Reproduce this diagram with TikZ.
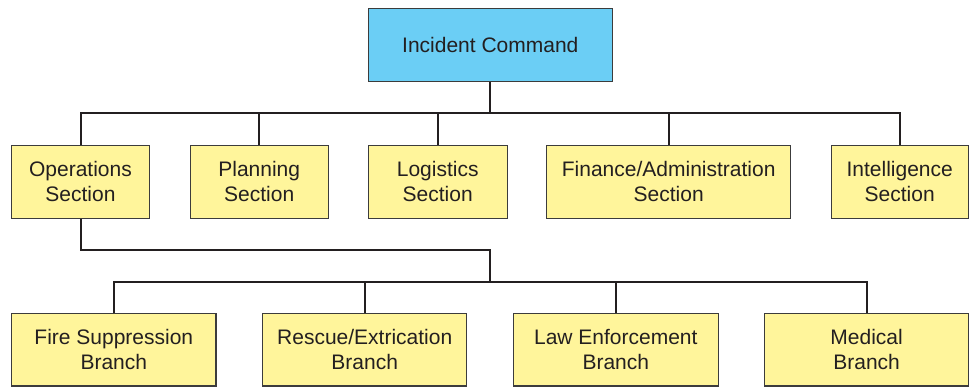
\documentclass[tikz,border=0pt]{standalone}
\usepackage{fontspec}
\setmainfont{Liberation Sans}
\begin{document}
\definecolor{cmdblue}{HTML}{6BCEF5}
\definecolor{unityellow}{HTML}{FFF59B}
\definecolor{inkgray}{HTML}{231F20}
\definecolor{edgegray}{HTML}{3C3C3C}
\begin{tikzpicture}[x=1pt,y=-1pt,
  box/.style={draw=edgegray,line width=1.1pt,fill=unityellow,align=center,
    inner sep=0pt,text=inkgray,font=\fontsize{21}{25}\selectfont},
  link/.style={draw=inkgray,line width=2pt}]
\useasboundingbox (0,0) rectangle (970,387);
% command box
\node[box,fill=cmdblue,minimum width=244pt,minimum height=72.6pt] (ic) at (490.3,45) {Incident Command};
% sections
\node[box,minimum width=137.6pt,minimum height=73pt] (ops) at (80.5,181.6) {Operations\\Section};
\node[box,minimum width=138.3pt,minimum height=73pt] (plan) at (259.2,181.6) {Planning\\Section};
\node[box,minimum width=139pt,minimum height=73pt] (log) at (437.7,181.6) {Logistics\\Section};
\node[box,minimum width=244pt,minimum height=73pt] (fin) at (668.7,181.6) {Finance/Administration\\Section};
\node[box,minimum width=137.3pt,minimum height=73pt] (int) at (899.7,181.6) {Intelligence\\Section};
% branches
\node[box,minimum width=204.3pt,minimum height=72.7pt] (fire) at (113.8,349.7) {Fire Suppression\\Branch};
\node[box,minimum width=204pt,minimum height=72.7pt] (res) at (364.7,349.7) {Rescue/Extrication\\Branch};
\node[box,minimum width=205pt,minimum height=72.7pt] (law) at (615.8,349.7) {Law Enforcement\\Branch};
\node[box,minimum width=204pt,minimum height=72.7pt] (med) at (866.6,349.7) {Medical\\Branch};
% bus levels
\coordinate (b1) at (0,113.3);
\coordinate (b2) at (0,250);
\coordinate (b3) at (0,281.8);
% command to sections
\draw[link] (ic.south) -- (ic.south |- b1);
\draw[link] (ops.north) -- (ops.north |- b1) -- (int.north |- b1) -- (int.north);
\draw[link] (plan.north) -- (plan.north |- b1);
\draw[link] (log.north) -- (log.north |- b1);
\draw[link] (fin.north) -- (fin.north |- b1);
% operations to branches
\draw[link] (ops.south) -- (ops.south |- b2) -- (ic.south |- b2) -- (ic.south |- b3);
\draw[link] (fire.north) -- (fire.north |- b3) -- (med.north |- b3) -- (med.north);
\draw[link] (res.north) -- (res.north |- b3);
\draw[link] (law.north) -- (law.north |- b3);
\end{tikzpicture}
\end{document}
